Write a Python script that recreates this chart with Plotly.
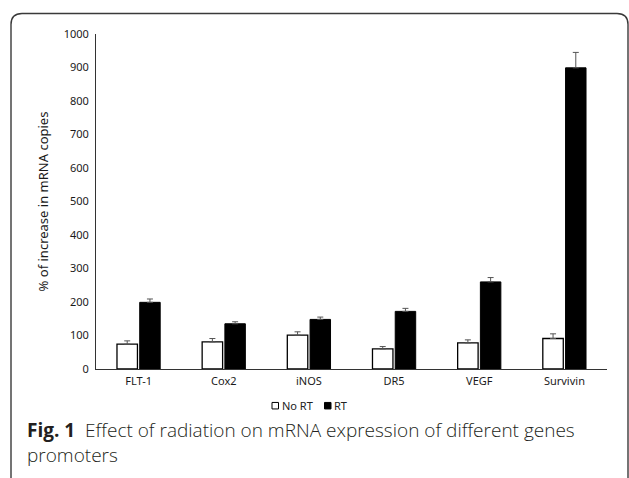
import plotly.graph_objects as go

# ---- data ----
genes = ["FLT-1", "Cox2", "iNOS", "DR5", "VEGF", "Survivin"]
no_rt = [74, 81, 101, 60, 78, 91]
no_rt_err = [10, 10, 10, 7, 9, 14]
rt = [199, 135, 148, 172, 260, 899]
rt_err = [10, 6, 7, 9, 13, 46]
y_ticks = [0, 100, 200, 300, 400, 500, 600, 700, 800, 900, 1000]
series_names = ["No RT", "RT"]
y_title = "% of increase in mRNA copies"
caption_bold = "Fig. 1"
caption_line1 = "Effect of radiation on mRNA expression of different genes"
caption_line2 = "promoters"

# ---- layout geometry (pixels) ----
W, H = 629, 478
L, R, T, B = 96, 22, 34, 109
pw, ph = W - L - R, H - T - B


def px(x):
    return (x - L) / pw


def py(y):
    return (H - B - y) / ph


fig = go.Figure()
fig.add_trace(go.Bar(
    name=series_names[0], x=genes, y=no_rt,
    marker=dict(color="white", line=dict(color="black", width=1.3)),
    error_y=dict(type="data", array=no_rt_err, arrayminus=[0] * len(genes),
                 symmetric=False, color="#555555", thickness=1, width=3),
    showlegend=False,
))
fig.add_trace(go.Bar(
    name=series_names[1], x=genes, y=rt,
    marker=dict(color="black", line=dict(color="black", width=1)),
    error_y=dict(type="data", array=rt_err, arrayminus=[0] * len(genes),
                 symmetric=False, color="#555555", thickness=1, width=3),
    showlegend=False,
))

# frame (rounded rectangle open at the bottom)
x0, x1, top, bot, r = 11, 628, 13.5, 490, 11
path = (f"M {px(x0)},{py(bot)} L {px(x0)},{py(top + r)} "
        f"Q {px(x0)},{py(top)} {px(x0 + r)},{py(top)} "
        f"L {px(x1 - r)},{py(top)} Q {px(x1)},{py(top)} {px(x1)},{py(top + r)} "
        f"L {px(x1)},{py(bot)}")
shapes = [dict(type="path", xref="paper", yref="paper", path=path,
               line=dict(color="#3a3a3a", width=1.4))]

# compact legend
leg_y = 405.7
sq = 6.5
shapes.append(dict(type="rect", xref="paper", yref="paper",
                   x0=px(272), x1=px(272 + sq), y0=py(leg_y + sq / 2), y1=py(leg_y - sq / 2),
                   line=dict(color="black", width=1), fillcolor="white"))
shapes.append(dict(type="rect", xref="paper", yref="paper",
                   x0=px(324.5), x1=px(324.5 + sq), y0=py(leg_y + sq / 2), y1=py(leg_y - sq / 2),
                   line=dict(color="black", width=1), fillcolor="black"))

annotations = [
    dict(text=series_names[0], x=px(279.5), y=py(leg_y), xref="paper", yref="paper",
         xanchor="left", yanchor="middle", showarrow=False,
         font=dict(family="Noto Sans", size=11, color="#222222")),
    dict(text=series_names[1], x=px(332), y=py(leg_y), xref="paper", yref="paper",
         xanchor="left", yanchor="middle", showarrow=False,
         font=dict(family="Noto Sans", size=11, color="#222222")),
    dict(text=f"<b>{caption_bold}</b>\u00a0\u00a0{caption_line1}", x=px(25), y=py(430),
         xref="paper", yref="paper", xanchor="left", yanchor="middle", showarrow=False,
         font=dict(family="Open Sans", size=19, color="#231f20", weight=300)),
    dict(text=caption_line2, x=px(25), y=py(455),
         xref="paper", yref="paper", xanchor="left", yanchor="middle", showarrow=False,
         font=dict(family="Open Sans", size=19, color="#231f20", weight=300)),
]

fig.update_layout(
    width=W, height=H,
    margin=dict(l=L, r=R, t=T, b=B, pad=0),
    paper_bgcolor="white", plot_bgcolor="white",
    barmode="group", bargap=0.466, bargroupgap=0.1,
    shapes=shapes, annotations=annotations,
    font=dict(family="Noto Sans", size=11, color="#1a1a1a"),
    xaxis=dict(showline=True, linecolor="#333333", linewidth=1, ticks="",
               showgrid=False, tickfont=dict(size=11), ticklabelstandoff=2),
    yaxis=dict(range=[0, 1000], tickvals=y_ticks, showline=True, linecolor="#333333",
               linewidth=1, ticks="", showgrid=False, zeroline=False,
               tickfont=dict(size=11), ticklabelstandoff=4,
               title=dict(text=y_title, font=dict(size=13), standoff=12)),
)

fig.write_html("out.html", config={"displayModeBar": False},
               post_script="document.body.style.margin='0px';")
